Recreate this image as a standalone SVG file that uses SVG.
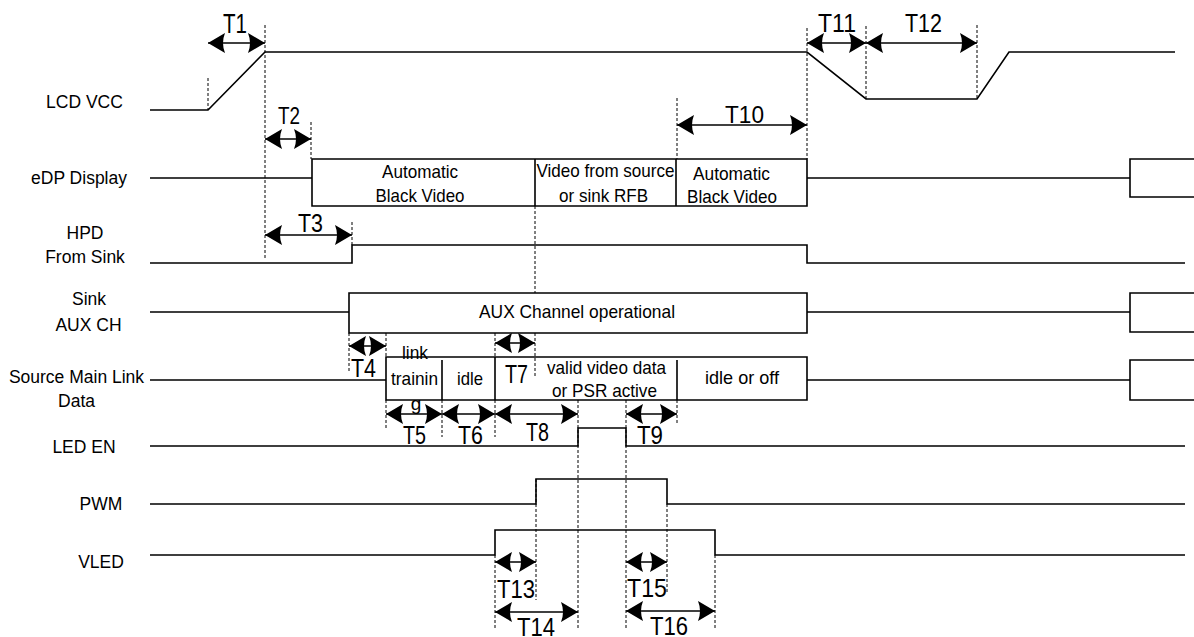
<svg xmlns="http://www.w3.org/2000/svg" width="1194" height="637" viewBox="0 0 1194 637">
<style>
text{font-family:"Liberation Sans",Arial,sans-serif;fill:#000}
.lbl{font-size:17.5px;text-anchor:middle}
.bx{font-size:19px;text-anchor:middle}
.t{font-size:25px}
.sig{fill:none;stroke:#000;stroke-width:1.6}
.dash{fill:none;stroke:#000;stroke-width:1;stroke-dasharray:3 2}
.arr{fill:none;stroke:#000;stroke-width:1.6;marker-start:url(#ah);marker-end:url(#ah)}
</style>
<defs>
<marker id="ah" viewBox="-18 -11 19 22" markerWidth="19" markerHeight="22" refX="0" refY="0" orient="auto-start-reverse" markerUnits="userSpaceOnUse">
<path d="M0,0 L-17,-10 Q-13,0 -17,10 Z" fill="#000"/>
</marker>
</defs>
<rect width="1194" height="637" fill="#fff"/>

<g id="lcd-vcc">
<text class="lbl" x="84.5" y="108">LCD VCC</text>
<path class="sig" d="M150,110 H208 L265,52 H807 L866,99 H977 L1009,52 H1175"/>
</g>

<g id="edp-display">
<text class="lbl" x="79" y="184">eDP Display</text>
<path class="sig" d="M150,178 H312 M312,159 H807 V206 H312 Z M535,159 V206 M676,159 V206 M807,178 H1130 M1194,159 H1130 V197 H1194"/>
<text class="bx" x="420" y="178" textLength="76" lengthAdjust="spacingAndGlyphs">Automatic</text>
<text class="bx" x="420" y="202" textLength="89" lengthAdjust="spacingAndGlyphs">Black Video</text>
<text class="bx" x="605.5" y="177" textLength="138" lengthAdjust="spacingAndGlyphs">Video from source</text>
<text class="bx" x="603.5" y="202" textLength="89" lengthAdjust="spacingAndGlyphs">or sink RFB</text>
<text class="bx" x="731.5" y="180" textLength="77" lengthAdjust="spacingAndGlyphs">Automatic</text>
<text class="bx" x="732" y="203" textLength="90" lengthAdjust="spacingAndGlyphs">Black Video</text>
</g>

<g id="hpd">
<text class="lbl" x="85" y="239">HPD</text>
<text class="lbl" x="85" y="263">From Sink</text>
<path class="sig" d="M150,263 H352 V245 H807 V263 H1185"/>
</g>

<g id="sink-aux">
<text class="lbl" x="89" y="305">Sink</text>
<text class="lbl" x="88.5" y="331">AUX CH</text>
<path class="sig" d="M150,312 H349 M349,293 H807 V333 H349 Z M807,312 H1130 M1194,293 H1130 V332 H1194"/>
<text class="bx" x="577" y="318" textLength="196" lengthAdjust="spacingAndGlyphs">AUX Channel operational</text>
</g>

<g id="main-link">
<text class="lbl" x="76.5" y="383">Source Main Link</text>
<text class="lbl" x="76.5" y="407">Data</text>
<path class="sig" d="M150,380 H386 M386,357 H807 V400 H386 Z M442,360 V400 M495,357 V400 M677,360 V400 M807,380 H1130 M1194,360 H1130 V400 H1194"/>
<text class="bx" x="415" y="359" textLength="26" lengthAdjust="spacingAndGlyphs">link</text>
<text class="bx" x="414.5" y="385" textLength="47" lengthAdjust="spacingAndGlyphs">trainin</text>
<text class="bx" x="416" y="410">g</text>
<text class="bx" x="470" y="385" textLength="26" lengthAdjust="spacingAndGlyphs">idle</text>
<text class="bx" x="606.5" y="374" textLength="119" lengthAdjust="spacingAndGlyphs">valid video data</text>
<text class="bx" x="604.5" y="397" textLength="105" lengthAdjust="spacingAndGlyphs">or PSR active</text>
<text class="bx" x="742" y="384" textLength="74" lengthAdjust="spacingAndGlyphs">idle or off</text>
</g>

<g id="led-en">
<text class="lbl" x="84" y="453">LED EN</text>
<path class="sig" d="M150,446 H578 V428 H626 V446 H1185"/>
</g>

<g id="pwm">
<text class="lbl" x="101" y="510">PWM</text>
<path class="sig" d="M150,504 H536 V479 H667 V504 H1185"/>
</g>

<g id="vled">
<text class="lbl" x="101" y="568">VLED</text>
<path class="sig" d="M150,555 H495 V530 H715 V555 H1185"/>
</g>

<g id="connectors">
<path class="dash" d="M208,78 V110 M265,25 V258 M311,122 V159 M352,222 V245 M349,333 V372 M386,333 V357 M386,400 V430 M495,333 V357 M495,400 V437 M535,206 V293 M535,333 V377 M442,400 V437 M578,400 V630 M626,400 V630 M677,98 V159 M677,400 V423 M536,479 V600 M667,504 V593 M495,555 V630 M715,555 V630 M807,28 V159 M866,26 V99 M977,25 V99"/>
<line class="arr" x1="208" y1="43" x2="265" y2="43"/>
<line class="arr" x1="265" y1="139" x2="311" y2="139"/>
<line class="arr" x1="265" y1="235" x2="352" y2="235"/>
<line class="arr" x1="349" y1="346" x2="386" y2="346"/>
<line class="arr" x1="495" y1="343" x2="535" y2="343"/>
<line class="arr" x1="386" y1="414" x2="442" y2="414"/>
<line class="arr" x1="442" y1="414" x2="495" y2="414"/>
<line class="arr" x1="495" y1="414" x2="578" y2="414"/>
<line class="arr" x1="626" y1="414" x2="677" y2="414"/>
<line class="arr" x1="677" y1="125" x2="807" y2="125"/>
<line class="arr" x1="807" y1="43" x2="866" y2="43"/>
<line class="arr" x1="866" y1="43" x2="977" y2="43"/>
<line class="arr" x1="495" y1="562" x2="536" y2="562"/>
<line class="arr" x1="495" y1="612" x2="578" y2="612"/>
<line class="arr" x1="626" y1="562" x2="667" y2="562"/>
<line class="arr" x1="626" y1="611" x2="715" y2="611"/>
</g>

<g id="timing-labels">
<text class="t" x="223" y="33" style="font-size:27px" textLength="24" lengthAdjust="spacingAndGlyphs">T1</text>
<text class="t" x="278" y="124" style="font-size:23px" textLength="22" lengthAdjust="spacingAndGlyphs">T2</text>
<text class="t" x="298" y="232" style="font-size:26px" textLength="25" lengthAdjust="spacingAndGlyphs">T3</text>
<text class="t" x="351" y="377" style="font-size:26px" textLength="25" lengthAdjust="spacingAndGlyphs">T4</text>
<text class="t" x="403" y="444" textLength="23" lengthAdjust="spacingAndGlyphs">T5</text>
<text class="t" x="458" y="444" textLength="25" lengthAdjust="spacingAndGlyphs">T6</text>
<text class="t" x="505" y="383" textLength="23" lengthAdjust="spacingAndGlyphs">T7</text>
<text class="t" x="526" y="441" textLength="23" lengthAdjust="spacingAndGlyphs">T8</text>
<text class="t" x="637" y="444" textLength="26" lengthAdjust="spacingAndGlyphs">T9</text>
<text class="t" x="725" y="123" style="font-size:23px" textLength="39" lengthAdjust="spacingAndGlyphs">T10</text>
<text class="t" x="818" y="32" style="font-size:26px" textLength="38" lengthAdjust="spacingAndGlyphs">T11</text>
<text class="t" x="905" y="32" style="font-size:26px" textLength="37" lengthAdjust="spacingAndGlyphs">T12</text>
<text class="t" x="497" y="598" textLength="38" lengthAdjust="spacingAndGlyphs">T13</text>
<text class="t" x="517" y="636" textLength="38" lengthAdjust="spacingAndGlyphs">T14</text>
<text class="t" x="627" y="597" textLength="40" lengthAdjust="spacingAndGlyphs">T15</text>
<text class="t" x="650" y="635" textLength="38" lengthAdjust="spacingAndGlyphs">T16</text>
</g>
</svg>
